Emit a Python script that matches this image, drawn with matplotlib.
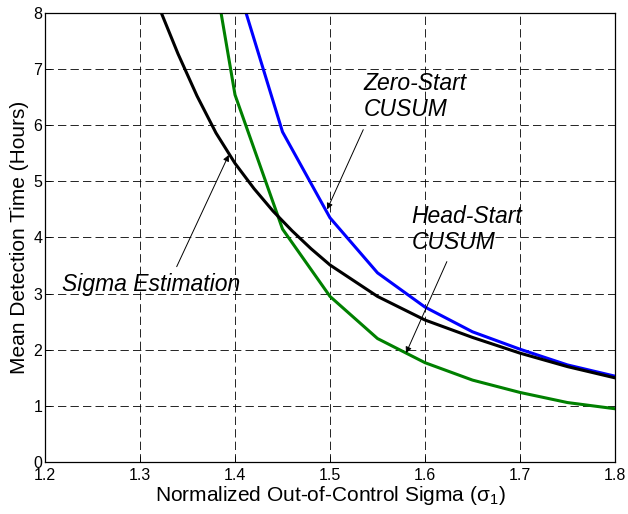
import numpy as np
import matplotlib.pyplot as plt

plt.rcParams['font.family'] = ['Liberation Sans', 'DejaVu Sans']
plt.rcParams['mathtext.fontset'] = 'custom'
plt.rcParams['mathtext.rm'] = 'Liberation Sans'
plt.rcParams['mathtext.it'] = 'Liberation Sans:italic'
plt.rcParams['lines.scale_dashes'] = False

# DATA ----------------------------------------------------------------------

sigma_est_x = [1.32, 1.34, 1.36, 1.38, 1.40, 1.42, 1.44, 1.46, 1.48, 1.50,
               1.55, 1.60, 1.65, 1.70, 1.75, 1.80]
sigma_est_y = [8.10, 7.27, 6.52, 5.86, 5.32, 4.87, 4.47, 4.12, 3.80, 3.51,
               2.95, 2.53, 2.22, 1.94, 1.70, 1.50]

zero_start_x = [1.40, 1.45, 1.50, 1.55, 1.60, 1.65, 1.70, 1.75, 1.80]
zero_start_y = [8.64, 5.88, 4.35, 3.37, 2.76, 2.32, 2.01, 1.73, 1.53]

head_start_x = [1.35, 1.40, 1.45, 1.50, 1.55, 1.60, 1.65, 1.70, 1.75, 1.80]
head_start_y = [11.5, 6.54, 4.15, 2.95, 2.20, 1.77, 1.46, 1.24, 1.06, 0.95]

x_ticks = [1.2, 1.3, 1.4, 1.5, 1.6, 1.7, 1.8]
y_ticks = [0, 1, 2, 3, 4, 5, 6, 7, 8]

# PLOT ----------------------------------------------------------------------

fig = plt.figure(figsize=(6.28, 5.14), dpi=100)
ax = fig.add_axes([0.0717, 0.101, 0.9076, 0.874])

ax.plot(zero_start_x, zero_start_y, color='#0000ff', lw=2.2)
ax.plot(head_start_x, head_start_y, color='#008000', lw=2.2)
ax.plot(sigma_est_x, sigma_est_y, color='k', lw=2.2)

ax.set_xlim(1.2, 1.8)
ax.set_ylim(0, 8)
ax.set_xticks(x_ticks)
ax.set_xticklabels([f'{v:g}' for v in x_ticks])
ax.set_yticks(y_ticks)
ax.grid(True, color='k', lw=0.6, linestyle=(0, (6, 3)))
ax.tick_params(direction='in', length=4, width=0.6, labelsize=11.5)
ax.tick_params(axis='y', pad=2)
ax.tick_params(axis='x', pad=4)
for s in ax.spines.values():
    s.set_linewidth(0.9)

ax.set_xlabel(r'Normalized Out-of-Control Sigma ($\mathregular{\sigma_1}$)',
              fontsize=15, labelpad=1)
ax.set_ylabel('Mean Detection Time (Hours)', fontsize=15, labelpad=3)

arrow = dict(arrowstyle='-|>', color='k', lw=0.7, mutation_scale=9,
             shrinkA=0, shrinkB=0)
txt = dict(fontsize=16.5, style='italic', ha='left', va='center',
           linespacing=1.15)

ax.annotate('', xy=(1.497, 4.50), xytext=(1.535, 5.92), arrowprops=arrow)
ax.text(1.535, 6.51, 'Zero-Start\nCUSUM', **txt)

ax.annotate('', xy=(1.58, 1.94), xytext=(1.623, 3.57), arrowprops=arrow)
ax.text(1.586, 4.14, 'Head-Start\nCUSUM', **txt)

ax.annotate('', xy=(1.3934, 5.47), xytext=(1.3386, 3.48), arrowprops=arrow)
ax.text(1.2175, 3.16, 'Sigma Estimation', **txt)

fig.savefig('out.png', dpi=100)
